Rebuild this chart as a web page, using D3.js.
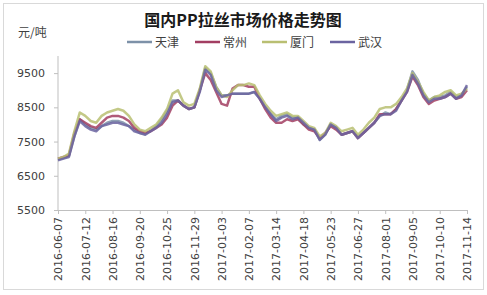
<!DOCTYPE html>
<html><head><meta charset="utf-8">
<script src="https://cdn.jsdelivr.net/npm/d3@7"></script>
<style>body{margin:0;background:#fff}svg{display:block}</style>
</head><body>
<svg id="c" width="487" height="295"></svg>
<script>
const title = "国内PP拉丝市场价格走势图";
const unitLabel = "元/吨";
const seriesNames = ["天津","常州","厦门","武汉"];
const startDate = "2016-06-07";
const weeks = 76;
const tickLabels = ["2016-06-07","2016-07-12","2016-08-16","2016-09-20","2016-10-25","2016-11-29","2017-01-03","2017-02-07","2017-03-14","2017-04-18","2017-05-23","2017-06-27","2017-08-01","2017-09-05","2017-10-10","2017-11-14"];
const yTicks = [5500,6500,7500,8500,9500];
const tianjin = [6980,7020,7080,7650,8150,8000,7900,7850,7950,8050,8100,8100,8050,7950,7850,7750,7720,7820,7950,8150,8400,8700,8700,8550,8450,8500,9000,9650,9500,9100,8850,8850,8900,8900,8900,8900,8950,8750,8500,8300,8150,8250,8300,8200,8200,8000,7900,7850,7550,7700,8000,7900,7700,7750,7800,7650,7750,7900,8050,8250,8350,8300,8450,8700,9000,9550,9300,8900,8700,8800,8800,8850,8950,8800,8850,9100];
const changzhou = [7000,7050,7100,7750,8150,8050,7950,7900,8050,8200,8250,8250,8200,8100,7900,7800,7750,7800,7900,8000,8200,8550,8700,8550,8450,8500,9000,9500,9300,8950,8600,8550,9050,9150,9150,9100,9100,8750,8450,8200,8050,8050,8150,8100,8150,8000,7850,7800,7600,7750,7950,7850,7700,7750,7800,7600,7750,7900,8050,8300,8300,8300,8450,8700,8950,9400,9150,8800,8600,8700,8750,8800,8900,8750,8800,9000];
const xiamen = [7000,7050,7150,7800,8350,8250,8100,8050,8250,8350,8400,8450,8400,8250,8000,7850,7800,7900,8000,8200,8450,8900,9000,8650,8550,8600,9050,9700,9550,9100,8850,8800,9000,9150,9150,9200,9150,8850,8600,8400,8250,8300,8350,8250,8250,8100,7950,7900,7650,7750,8050,7950,7800,7850,7900,7700,7850,8050,8200,8450,8500,8500,8600,8800,9050,9500,9250,8950,8700,8800,8850,8950,9000,8850,8900,9050];
const wuhan = [6950,7000,7050,7650,8100,7950,7850,7800,7950,8000,8050,8050,8000,7950,7800,7750,7700,7800,7900,8050,8300,8650,8700,8550,8450,8500,8950,9600,9450,9000,8800,8850,8900,8900,8900,8900,8950,8750,8500,8300,8100,8200,8250,8150,8200,8050,7900,7850,7550,7700,8000,7900,7700,7750,7800,7600,7750,7900,8050,8250,8300,8300,8400,8700,8950,9450,9200,8850,8650,8750,8750,8800,8900,8750,8850,9150];
const colors = ["#7d91a8","#a23e62","#b9bf72","#6b64a0"];

const parse = d3.timeParse("%Y-%m-%d");
const fmt = d3.timeFormat("%Y-%m-%d");
const t0 = parse(startDate);
const dates = d3.range(weeks).map(i => d3.timeDay.offset(t0, i*7));
const seriesVals = [tianjin, changzhou, xiamen, wuhan];

const svg = d3.select("#c");
svg.append("rect").attr("x",3.5).attr("y",3.5).attr("width",480).attr("height",286)
  .attr("fill","#fff").attr("stroke","#d9d9d9");

const x = d3.scaleTime().domain([parse(tickLabels[0]), parse(tickLabels[tickLabels.length-1])]).range([58,467]);
const y = d3.scaleLinear().domain([5500,10000]).range([210,56]);

svg.append("text").attr("x",243).attr("y",26).attr("text-anchor","middle")
  .attr("font-family","Noto Sans CJK SC").attr("font-weight","bold").attr("font-size",16)
  .attr("fill","#1a1a1a").text(title);
svg.append("text").attr("x",18).attr("y",37).attr("font-family","Noto Sans CJK SC")
  .attr("font-size",12).attr("fill","#404040").text(unitLabel);

const legX = [127,195,262,330];
seriesNames.forEach((n,i)=>{
  svg.append("line").attr("x1",legX[i]).attr("x2",legX[i]+25).attr("y1",42).attr("y2",42)
    .attr("stroke",colors[i]).attr("stroke-width",2.5);
  svg.append("text").attr("x",legX[i]+28).attr("y",46.5).attr("font-family","Noto Sans CJK SC")
    .attr("font-size",12).attr("fill","#404040").text(n);
});

const yAxis = svg.append("g").attr("transform","translate(58,0)")
  .call(d3.axisLeft(y).tickValues(yTicks).tickSize(4).tickFormat(d3.format("d")));
yAxis.select(".domain").attr("stroke","#bfbfbf").attr("d","M0,56V210");
yAxis.selectAll(".tick line").attr("stroke","#bfbfbf");
yAxis.selectAll("text").attr("font-family","DejaVu Sans").attr("font-size",11).attr("fill","#404040").attr("x",-13);

const xAxis = svg.append("g").attr("transform","translate(0,210)")
  .call(d3.axisBottom(x).tickValues(tickLabels.map(parse)).tickSize(4).tickFormat(fmt));
xAxis.select(".domain").attr("stroke","#bfbfbf");
xAxis.selectAll(".tick line").attr("stroke","#bfbfbf");
xAxis.selectAll("text").attr("font-family","DejaVu Sans").attr("font-size",11).attr("fill","#404040")
  .attr("transform","rotate(-90)").attr("text-anchor","end").attr("x",-7).attr("y",0).attr("dy","0.35em");

const line = d3.line().x((d,i)=>x(dates[i])).y(d=>y(d)).curve(d3.curveLinear);
[0,1,2,3].forEach(i=>{
  svg.append("path").attr("d",line(seriesVals[i])).attr("fill","none")
    .attr("stroke",colors[i]).attr("stroke-width",2.5).attr("stroke-opacity",0.85).attr("stroke-linejoin","round");
});
</script>
</body></html>
